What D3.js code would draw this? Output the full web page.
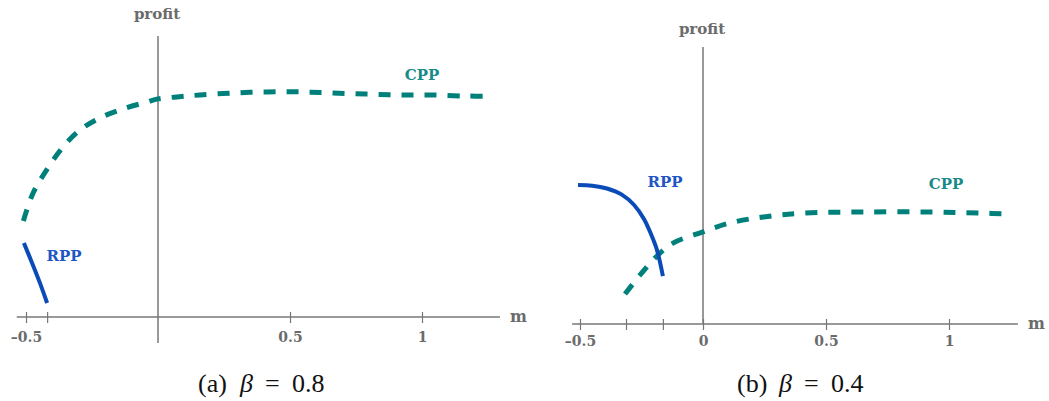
<!DOCTYPE html>
<html><head><meta charset="utf-8">
<script src="https://cdn.jsdelivr.net/npm/d3@7"></script>
<style>
html,body{margin:0;padding:0;background:#fff;}
svg{display:block;}
.lbl{font-family:"DejaVu Serif",serif;font-weight:bold;}
.cap{font-family:"Liberation Serif","DejaVu Serif",serif;font-size:26px;fill:#111;}
</style></head>
<body>
<svg id="c" width="1049" height="401"></svg>
<script>
// ---- Panel (a) beta = 0.8 ----
const aCppM      = [-0.51,-0.473,-0.417,-0.36,-0.295,-0.22,-0.133,-0.042,0,0.072,0.159,0.284,0.413,0.538,0.663,0.792,0.917,1.042,1.170,1.258];
const aCppProfit = [0.343,0.443,0.532,0.607,0.668,0.711,0.743,0.768,0.779,0.786,0.793,0.800,0.804,0.804,0.800,0.796,0.793,0.793,0.789,0.789];
const aRppM      = [-0.508,-0.477,-0.447,-0.420];
const aRppProfit = [0.264,0.193,0.121,0.05];
const aTicks     = [-0.5,-0.42,0.5,1];
const aTickLabels= ["-0.5","","0.5","1"];
// ---- Panel (b) beta = 0.4 ----
const bCppM      = [-0.317,-0.256,-0.187,-0.122,0,0.110,0.244,0.407,0.650,0.923,1.126,1.256];
const bCppProfit = [0.107,0.175,0.243,0.289,0.329,0.361,0.382,0.396,0.400,0.400,0.396,0.393];
const bRppM      = [-0.508,-0.450,-0.390,-0.330,-0.280,-0.240,-0.210,-0.187,-0.163];
const bRppProfit = [0.496,0.494,0.484,0.462,0.425,0.375,0.318,0.264,0.171];
const bTicks     = [-0.5,-0.313,-0.163,0,0.5,1];
const bTickLabels= ["-0.5","","","0","0.5","1"];

const svg = d3.select("#c");
const teal = "#00807a", blue = "#0a4bb8", axisCol = "#777";

function panel(cfg){
  const x = d3.scaleLinear().domain(cfg.xdom).range(cfg.xrange);
  const y = d3.scaleLinear().domain([0,1]).range([cfg.y0, cfg.y0-280]);
  const g = svg.append("g");
  const ax = g.append("g").attr("transform",`translate(0,${cfg.y0})`)
    .call(d3.axisBottom(x).tickValues(cfg.ticks).tickSize(0)
      .tickFormat((d,i)=>cfg.labels[i]));
  ax.select(".domain").remove();
  g.append("line").attr("x1",x(cfg.xdom[0])).attr("x2",x(cfg.xdom[1]))
    .attr("y1",cfg.y0).attr("y2",cfg.y0).attr("stroke",axisCol).attr("stroke-width",1.5);
  ax.selectAll(".tick line").attr("y1",-5).attr("y2",6).attr("stroke",axisCol).attr("stroke-width",1.2);
  ax.selectAll(".tick text").attr("class","lbl").attr("y",cfg.tickDy).attr("dy","0.35em")
    .style("font-size","14px").attr("fill","#6b6b6b").text((d,i)=>cfg.labels[i].replace("-","\u2013"));
  g.append("line").attr("x1",x(0)).attr("x2",x(0))
    .attr("y1",y(cfg.ytop)).attr("y2",cfg.ybot).attr("stroke",axisCol).attr("stroke-width",1.5);
  g.append("text").attr("class","lbl").attr("x",x(0)-1).attr("y",cfg.profitY)
    .attr("text-anchor","middle").style("font-size","15px").attr("fill","#6b6b6b").text("profit");
  g.append("text").attr("class","lbl").attr("x",x(cfg.xdom[1])+10).attr("y",cfg.y0+5)
    .style("font-size","16px").attr("fill","#6b6b6b").text("m");
  const lineR = d3.line().curve(d3.curveCatmullRom).x(d=>x(d[0])).y(d=>y(d[1]));
  g.append("path").datum(cfg.cppM.map((m,i)=>[m,cfg.cppP[i]]))
    .attr("d",lineR).attr("fill","none").attr("stroke",teal).attr("stroke-width",5)
    .attr("stroke-dasharray","12,11");
  g.append("path").datum(cfg.rppM.map((m,i)=>[m,cfg.rppP[i]]))
    .attr("d",lineR).attr("fill","none").attr("stroke",blue).attr("stroke-width",4);
  g.append("text").attr("class","lbl").attr("x",cfg.cppLab[0]).attr("y",cfg.cppLab[1])
    .attr("text-anchor","middle").style("font-size","15px").attr("fill","#1a8a88").text("CPP");
  g.append("text").attr("class","lbl").attr("x",cfg.rppLab[0]).attr("y",cfg.rppLab[1])
    .attr("text-anchor","middle").style("font-size","15px").attr("fill","#1f55c4").text("RPP");
  const cap = g.append("text").attr("class","cap").attr("y",392);
  cap.append("tspan").attr("x",cfg.capX).text(cfg.capA);
  cap.append("tspan").attr("x",cfg.capX+42).attr("font-style","italic").text("\u03B2");
  cap.append("tspan").attr("x",cfg.capX+67).text("=");
  cap.append("tspan").attr("x",cfg.capX+94).text(cfg.capV);
}

panel({xdom:[-0.535,1.295], xrange:[158-0.535*264,158+1.295*264], y0:317, ytop:(317-36)/280, ybot:343,
  ticks:aTicks, labels:aTickLabels, cppM:aCppM, cppP:aCppProfit, rppM:aRppM, rppP:aRppProfit,
  tickDy:20, profitY:19, cppLab:[422,80], rppLab:[64,261], capX:198, capA:"(a)", capV:"0.8"});
panel({xdom:[-0.532,1.28], xrange:[703-0.532*246,703+1.28*246], y0:324, ytop:(324-47)/280, ybot:324,
  ticks:bTicks, labels:bTickLabels, cppM:bCppM, cppP:bCppProfit, rppM:bRppM, rppP:bRppProfit,
  tickDy:17, profitY:34, cppLab:[946,189], rppLab:[665,187], capX:737, capA:"(b)", capV:"0.4"});
</script>
</body></html>
